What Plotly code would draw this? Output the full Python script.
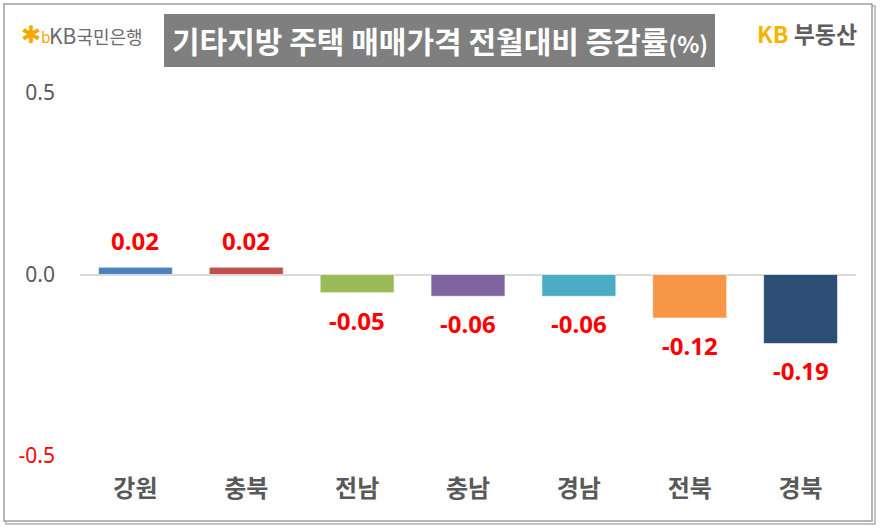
import plotly.graph_objects as go

categories = ["강원", "충북", "전남", "충남", "경남", "전북", "경북"]
values = [0.02, 0.02, -0.05, -0.06, -0.06, -0.12, -0.19]
bar_colors = ["#4f81bd", "#c0504d", "#9bbb59", "#8064a2", "#4bacc6", "#f79646", "#2c4d75"]
y_tick_vals = [0.5, 0.0, -0.5]
y_tick_text = ["0.5", "0.0", "<span style='color:#ff0000'>-0.5</span>"]
title_text = "기타지방 주택 매매가격 전월대비 증감률"

W, H = 880, 528
ML, MR, MT, MB = 80, 24, 93, 72
PW, PH = W - ML - MR, H - MT - MB


def px(x):
    return (x - ML) / PW


def py(y):
    return (H - MB - y) / PH


KR = "Noto Sans CJK KR"
NUM = "Noto Sans"

fig = go.Figure()
fig.add_trace(go.Bar(
    x=categories, y=values,
    marker=dict(color=bar_colors, line=dict(color="rgba(255,255,255,0.6)", width=1)),
    width=0.667,
    hoverinfo="skip",
))

for c, v in zip(categories, values):
    fig.add_annotation(
        x=c, y=v, xref="x", yref="y",
        text=f"{v:.2f}", showarrow=False,
        font=dict(family=NUM, size=24, color="#ff0000", weight="bold"),
        yanchor="bottom" if v >= 0 else "top",
        yshift=8 if v >= 0 else -9,
    )

shapes = []
# shadow
shapes.append(dict(type="rect", xref="paper", yref="paper",
                   x0=px(6), x1=px(875), y0=py(524), y1=py(6),
                   line=dict(color="#c4c4c4", width=2), layer="below"))
# frame
shapes.append(dict(type="rect", xref="paper", yref="paper",
                   x0=px(4), x1=px(872), y0=py(521), y1=py(4),
                   line=dict(color="#a0a0a0", width=1.5), fillcolor="white", layer="below"))
# title box
shapes.append(dict(type="rect", xref="paper", yref="paper",
                   x0=px(164), x1=px(715), y0=py(67), y1=py(14),
                   line=dict(color="#7f7f7f", width=0), fillcolor="#7f7f7f", layer="above"))
fig.update_layout(shapes=shapes)

fig.add_annotation(
    xref="paper", yref="paper", x=px(440), y=py(40),
    text=title_text + "<span style='font-size:23px'>(%)</span>",
    showarrow=False, xanchor="center", yanchor="middle",
    font=dict(family=KR, size=30, color="white", weight="bold"),
)
# KB국민은행 logo
fig.add_annotation(
    xref="paper", yref="paper", x=px(19), y=py(35),
    text="✱<span style='font-size:15px'>b</span>",
    showarrow=False, xanchor="left", yanchor="middle",
    font=dict(family="DejaVu Sans", size=24, color="#f5a800"),
)
fig.add_annotation(
    xref="paper", yref="paper", x=px(47), y=py(35),
    text="<span style='font-size:21px'>KB</span>국민은행",
    showarrow=False, xanchor="left", yanchor="middle",
    font=dict(family=KR, size=18, color="#6b6b6b"),
)
# KB부동산 logo
fig.add_annotation(
    xref="paper", yref="paper", x=px(859), y=py(33),
    text="<span style='color:#f5b400'>KB</span> 부동산",
    showarrow=False, xanchor="right", yanchor="middle",
    font=dict(family=KR, size=23, color="#5e5e5e", weight="bold"),
)

fig.update_layout(
    width=W, height=H,
    margin=dict(l=ML, r=MR, t=MT, b=MB),
    paper_bgcolor="white", plot_bgcolor="rgba(0,0,0,0)",
    showlegend=False,
    bargap=0.333,
    xaxis=dict(
        showgrid=False, zeroline=False, showline=False,
        ticks="", tickfont=dict(family=KR, size=24, color="#595959", weight="bold"),
        ticklabelstandoff=16, range=[-0.5, 6.5],
    ),
    yaxis=dict(
        range=[-0.5, 0.5], showgrid=False,
        zeroline=True, zerolinecolor="#d9d9d9", zerolinewidth=1.5,
        showline=False, ticks="",
        tickvals=y_tick_vals, ticktext=y_tick_text,
        tickfont=dict(family=NUM, size=21, color="#595959"),
        ticklabelstandoff=24,
    ),
)

fig.write_html("out.html")
